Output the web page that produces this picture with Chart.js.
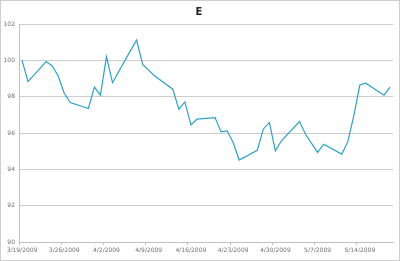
<!DOCTYPE html>
<html>
<head>
<meta charset="utf-8">
<script src="https://cdn.jsdelivr.net/npm/chart.js@4/dist/chart.umd.min.js"></script>
<style>
  html, body { margin: 0; padding: 0; background: #fff; }
  #wrap { width: 400px; height: 261px; position: relative; }
</style>
</head>
<body>
<div id="wrap"><canvas id="chart"></canvas></div>
<script>
// trading days and values
var dates = ['3/19/2009', '3/20/2009', '3/23/2009', '3/24/2009', '3/25/2009', '3/26/2009', '3/27/2009',
    '3/30/2009', '3/31/2009', '4/1/2009', '4/2/2009', '4/3/2009', '4/6/2009', '4/7/2009', '4/8/2009',
    '4/9/2009', '4/10/2009', '4/13/2009', '4/14/2009', '4/15/2009', '4/16/2009', '4/17/2009',
    '4/20/2009', '4/21/2009', '4/22/2009', '4/23/2009', '4/24/2009', '4/27/2009', '4/28/2009',
    '4/29/2009', '4/30/2009', '5/1/2009', '5/4/2009', '5/5/2009', '5/6/2009', '5/7/2009', '5/8/2009',
    '5/11/2009', '5/12/2009', '5/13/2009', '5/14/2009', '5/15/2009', '5/18/2009', '5/19/2009'];
var values = [100.0, 98.83, 99.93, 99.69, 99.14, 98.19, 97.68,
    97.35, 98.53, 98.08, 100.2, 98.77, 100.55, 101.12, 99.78,
    99.45, 99.14, 98.41, 97.31, 97.71, 96.45, 96.76,
    96.85, 96.06, 96.12, 95.48, 94.51, 95.05, 96.21,
    96.58, 95.02, 95.57, 96.63, 95.93, 95.43, 94.93, 95.38,
    94.84, 95.51, 96.94, 98.64, 98.74, 98.08, 98.53];
var tickLabels = ['3/19/2009', '3/26/2009', '4/2/2009', '4/9/2009', '4/16/2009',
    '4/23/2009', '4/30/2009', '5/7/2009', '5/14/2009'];
var firstDay = '3/19/2009';
var lastDay = '5/19/2009';

// every calendar day on the axis (Excel date axis)
function fmt(d) {
    return (d.getMonth() + 1) + '/' + d.getDate() + '/' + d.getFullYear();
}
var days = [];
var d = new Date(firstDay);
var end = new Date(lastDay);
while (d <= end) {
    days.push(fmt(d));
    d.setDate(d.getDate() + 1);
}
var series = days.map(function(day) {
    var i = dates.indexOf(day);
    return i >= 0 ? values[i] : null;
});

var frame = {
    id: 'frame',
    afterDraw: function(c) {
        var ctx = c.ctx;
        ctx.save();
        ctx.strokeStyle = '#cfcfcf';
        ctx.lineWidth = 1;
        ctx.strokeRect(0.5, 0.5, 399, 260);
        ctx.fillStyle = '#222';
        ctx.font = 'bold 10px "DejaVu Sans", sans-serif';
        ctx.textAlign = 'center';
        ctx.textBaseline = 'middle';
        ctx.fillText('E', 199, 12);
        ctx.restore();
    }
};

var chart = new Chart(document.getElementById('chart'), {
    type: 'line',
    data: {
        labels: days,
        datasets: [{
            data: series,
            borderColor: '#2aa3c6',
            borderWidth: 1.2,
            pointRadius: 0,
            tension: 0,
            spanGaps: true,
            fill: false
        }]
    },
    options: {
        responsive: true,
        maintainAspectRatio: false,
        animation: false,
        layout: { padding: { left: 0, right: 7, top: 24, bottom: 4 } },
        plugins: {
            legend: { display: false },
            tooltip: { enabled: false },
            title: { display: false }
        },
        scales: {
            x: {
                offset: true,
                grid: {
                    offset: true,
                    drawOnChartArea: false,
                    tickLength: 3,
                    color: function(ctx) {
                        return ctx.index % 7 === 0 ? '#c0c0c0' : 'rgba(0,0,0,0)';
                    }
                },
                border: { color: '#c0c0c0', width: 1 },
                ticks: {
                    autoSkip: false,
                    maxRotation: 0,
                    minRotation: 0,
                    padding: 2,
                    color: '#707070',
                    font: { family: 'DejaVu Sans', size: 6 },
                    callback: function(v, i) {
                        var lab = days[i];
                        return tickLabels.indexOf(lab) >= 0 ? lab : '';
                    }
                },
                afterFit: function(s) { s.height = 15; }
            },
            y: {
                min: 90,
                max: 102,
                ticks: {
                    stepSize: 2,
                    padding: 4,
                    color: '#707070',
                    font: { family: 'DejaVu Sans', size: 6 }
                },
                grid: { color: '#cccccc', drawTicks: false },
                border: { display: true, color: '#c0c0c0' },
                afterFit: function(s) { s.width = 19; }
            }
        }
    },
    plugins: [frame]
});
</script>
</body>
</html>
